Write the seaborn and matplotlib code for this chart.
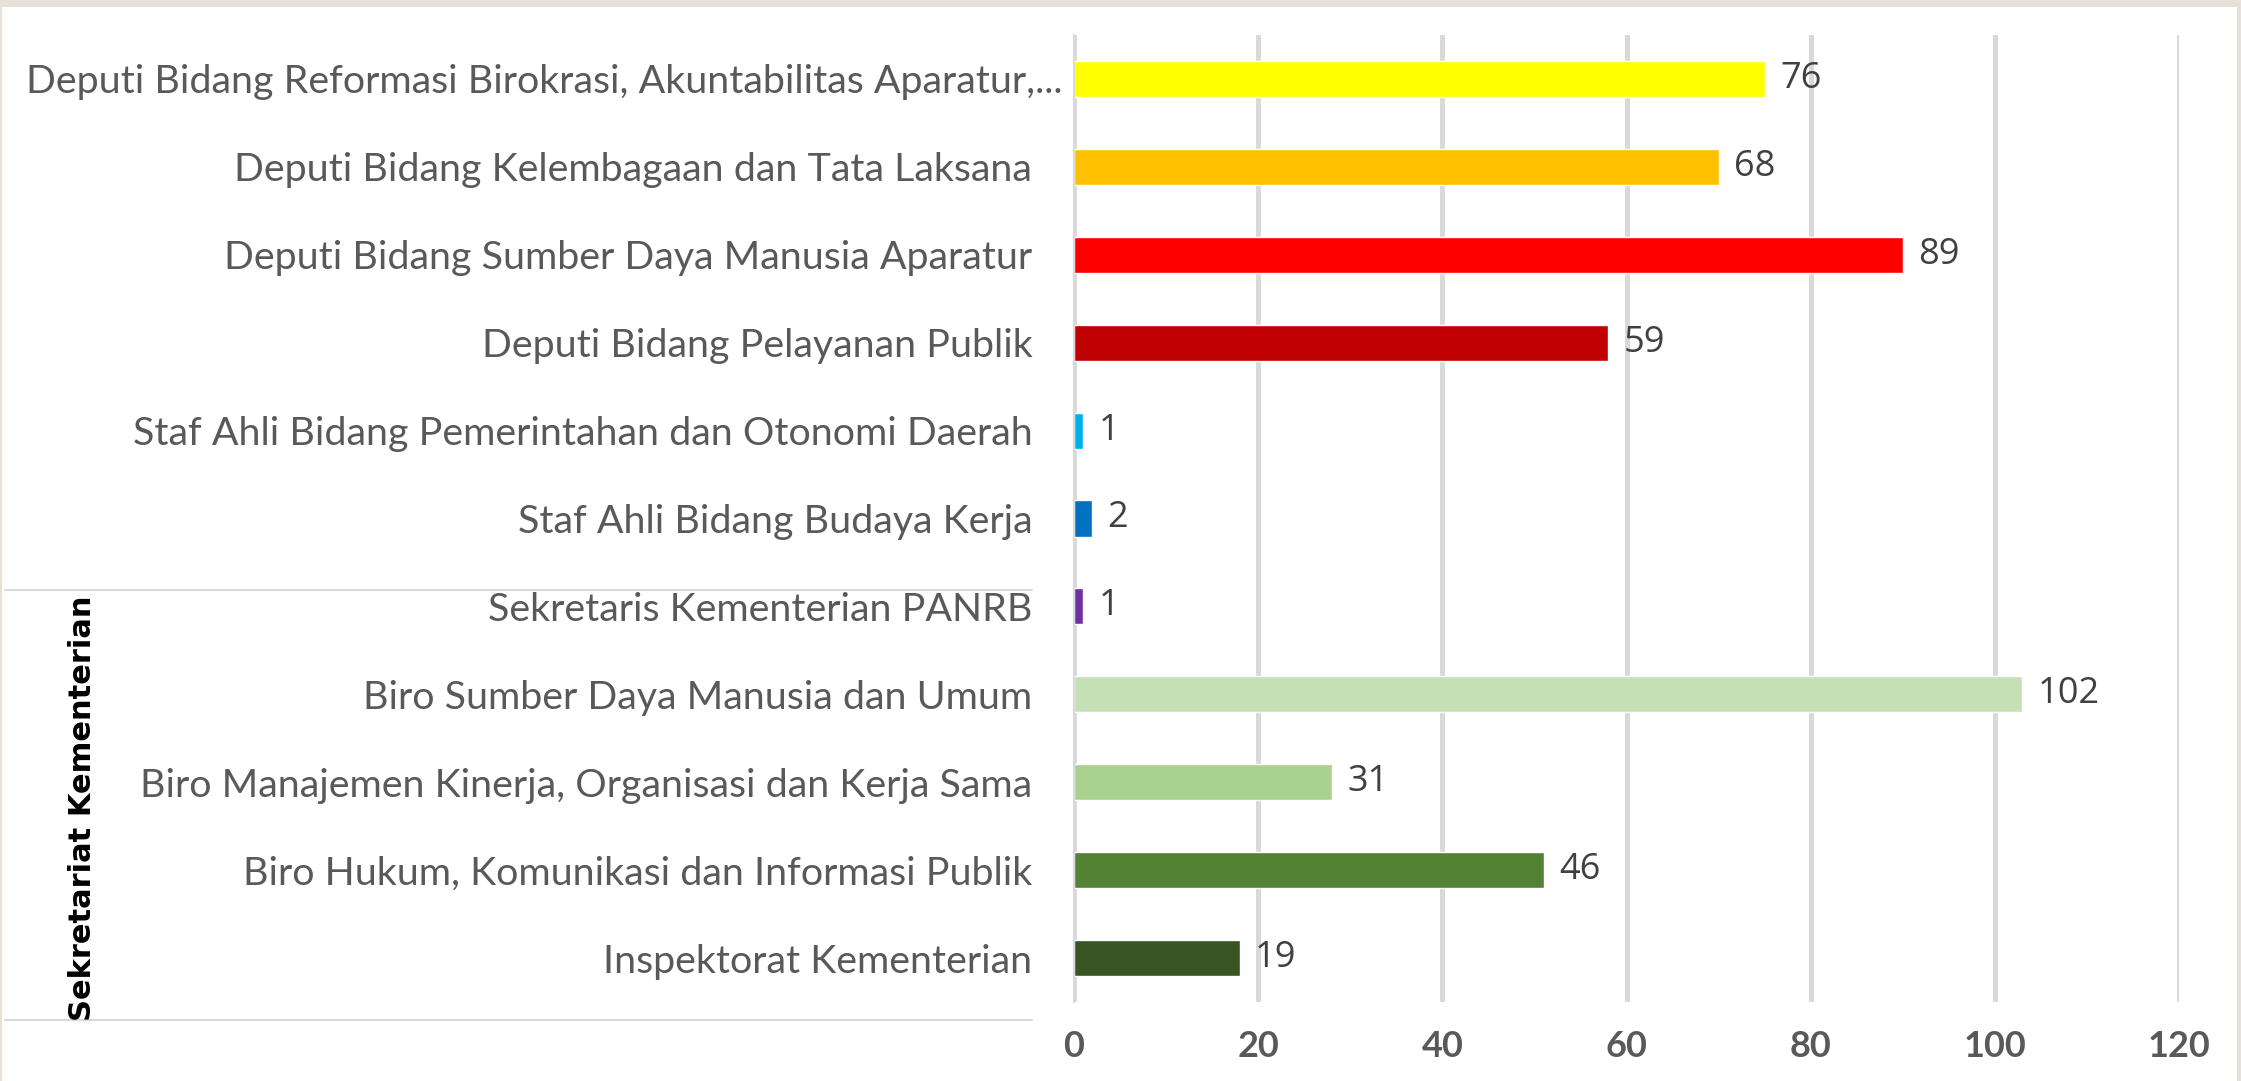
import pandas as pd
import seaborn as sns
import matplotlib.pyplot as plt
from matplotlib.patches import Rectangle
from matplotlib.lines import Line2D

# Data (bar lengths and the printed data labels differ in the source)
categories = [
    'Deputi Bidang Reformasi Birokrasi, Akuntabilitas Aparatur,...',
    'Deputi Bidang Kelembagaan dan Tata Laksana',
    'Deputi Bidang Sumber Daya Manusia Aparatur',
    'Deputi Bidang Pelayanan Publik',
    'Staf Ahli Bidang Pemerintahan dan Otonomi Daerah',
    'Staf Ahli Bidang Budaya Kerja',
    'Sekretaris Kementerian PANRB',
    'Biro Sumber Daya Manusia dan Umum',
    'Biro Manajemen Kinerja, Organisasi dan Kerja Sama',
    'Biro Hukum, Komunikasi dan Informasi Publik',
    'Inspektorat Kementerian',
]
bar_values = [75, 70, 90, 58, 1, 2, 1, 103, 28, 51, 18]
label_values = [76, 68, 89, 59, 1, 2, 1, 102, 31, 46, 19]
bar_colors = ['#FFFF00', '#FFC000', '#FF0000', '#C00000', '#00B0F0', '#0070C0',
              '#7030A0', '#C5E0B4', '#A9D18E', '#548235', '#375623']
group_label = 'Sekretariat Kementerian'
x_ticks = [0, 20, 40, 60, 80, 100, 120]

sns.set_theme(style='white')
plt.rcParams['font.family'] = ['Lato', 'DejaVu Sans']

df = pd.DataFrame({'cat': categories, 'val': bar_values})

W, H = 2241, 1081
fig = plt.figure(figsize=(W / 100, H / 100), dpi=100)
fig.patch.set_facecolor('#e7e0d8')
bg = Rectangle((2 / W, 0), 2235 / W, 1 - 7 / H, transform=fig.transFigure,
               facecolor='white', edgecolor='none', zorder=-10)
fig.patches.append(bg)

ax = fig.add_axes([1074 / W, 1 - 1002 / H, 1105 / W, 967 / H])
ax.set_facecolor('none')
sns.barplot(data=df, x='val', y='cat', hue='cat', palette=bar_colors, orient='h',
            width=0.41, legend=False, ax=ax, saturation=1)

for container, lbl in zip(ax.containers, label_values):
    ax.bar_label(container, labels=[str(lbl)], padding=11, fontsize=26,
                 color='#404040', family='Open Sans')

ax.set_xlim(0, 120)
ax.set_xticks(x_ticks)
ax.set_xlabel('')
ax.set_ylabel('')
ax.grid(axis='x', color='#d9d9d9', linewidth=3.6)
ax.set_axisbelow(True)
for s in ['top', 'right', 'bottom']:
    ax.spines[s].set_visible(False)
ax.spines['left'].set_color('#d9d9d9')
ax.spines['left'].set_linewidth(1.5)
ax.tick_params(axis='x', length=0, pad=20, labelsize=26, labelcolor='#595959')
ax.tick_params(axis='y', length=0, pad=30, labelsize=30, labelcolor='#595959')
for t in ax.get_xticklabels():
    t.set_fontweight('bold')

# shrink the category labels so the longest one fits the space left of the axis
fig.canvas.draw()
renderer = fig.canvas.get_renderer()
widest = max(t.get_window_extent(renderer).width for t in ax.get_yticklabels())
ax.tick_params(axis='y', labelsize=30 * 1035 / widest)
# the truncated top label sits closer to the axis, as in the source
ax.yaxis.get_major_ticks()[0].set_pad(8)

# group label and separators (Excel multi-level category axis)
fig.text(83 / W, 1 - 808 / H, group_label, rotation=90, ha='center', va='center',
         fontsize=22, fontweight='bold', color='black', family='DejaVu Sans')
for yy in [590, 1020]:
    fig.lines.append(Line2D([5 / W, 1032 / W], [1 - yy / H, 1 - yy / H],
                            transform=fig.transFigure, color='#d9d9d9', linewidth=1.5))

fig.savefig('out.png', dpi=100, facecolor=fig.get_facecolor())
